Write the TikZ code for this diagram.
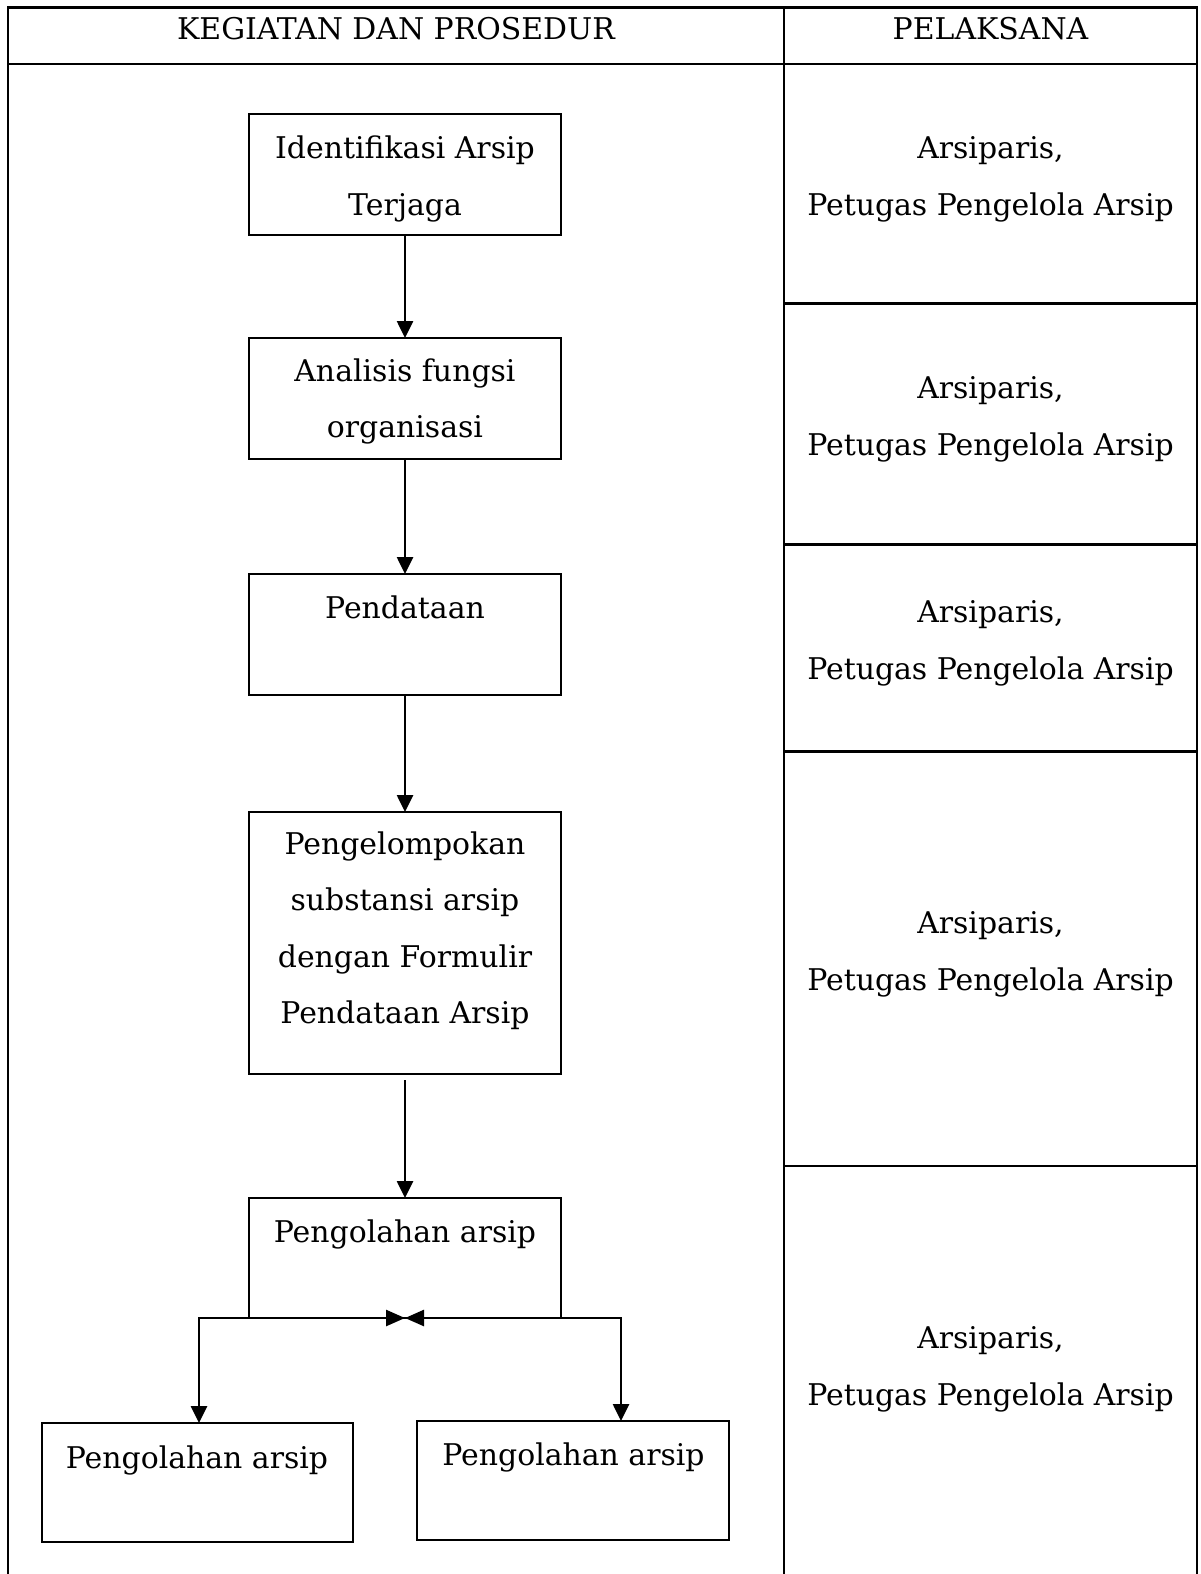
\documentclass[tikz,border=0pt]{standalone}
\usepackage{fontspec}
\setmainfont{DejaVu Serif}
\usetikzlibrary{arrows.meta}
\tikzset{
  box/.style={draw, line width=2pt, inner sep=0pt, outer sep=0pt},
  txt/.style={font=\fontsize{29.9}{56.4}\selectfont, inner sep=0pt, anchor=base},
  arr/.style={line width=2.6pt, -{Triangle[length=17pt,width=16pt]}},
  arr2/.style={line width=2.6pt, line join=miter, {Triangle[length=19pt,width=16pt]}-{Triangle[length=17pt,width=16pt]}},
  grid/.style={line width=2.8pt}
}
\newcommand{\ml}[1]{\begin{tabular}[t]{@{}c@{}}#1\end{tabular}}
\begin{document}
\begin{tikzpicture}[x=1pt,y=-1pt]
\useasboundingbox (0,0) rectangle (1200,1574);
% table frame
\draw[grid] (8,1574) -- (8,7.5) -- (1197,7.5) -- (1197,1574);
\draw[grid] (8,64) -- (1197,64);
\draw[grid] (784,7.5) -- (784,1574);
\draw[grid] (784,303.3) -- (1197,303.3);
\draw[grid] (784,544.3) -- (1197,544.3);
\draw[grid] (784,751.1) -- (1197,751.1);
\draw[grid] (784,1165.9) -- (1197,1165.9);
% header
\node[txt] (h1) at (396,39.5) {KEGIATAN DAN PROSEDUR};
\node[txt] (h2) at (990.5,39.5) {PELAKSANA};
% boxes
\node[box, minimum width=312pt, minimum height=121pt] (b1) at (405,174.5) {};
\node[box, minimum width=312pt, minimum height=121pt] (b2) at (405,398.5) {};
\node[box, minimum width=312pt, minimum height=121pt] (b3) at (405,634.5) {};
\node[box, minimum width=312pt, minimum height=262pt] (b4) at (405,943) {};
\node[box, minimum width=312pt, minimum height=120pt] (b5) at (405,1258) {};
\node[box, minimum width=311pt, minimum height=119pt] (b6) at (197.5,1482.5) {};
\node[box, minimum width=312pt, minimum height=119pt] (b7) at (573,1480.5) {};
% box texts
\node[txt] (t1) at (405,158.6) {\ml{Identifikasi Arsip\\Terjaga}};
\node[txt] (t2) at (405,381.5) {\ml{Analisis fungsi\\organisasi}};
\node[txt] (t3) at (405,618.5) {Pendataan};
\node[txt] (t4) at (405,854.5) {\ml{Pengelompokan\\substansi arsip\\dengan Formulir\\Pendataan Arsip}};
\node[txt] (t5) at (405,1242) {Pengolahan arsip};
\node[txt] (t6) at (197,1468) {Pengolahan arsip};
\node[txt] (t7) at (573.5,1465) {Pengolahan arsip};
% pelaksana
\node[txt] (p1) at (990.5,158.6) {\ml{Arsiparis,\\Petugas Pengelola Arsip}};
\node[txt] (p2) at (990.5,398.6) {\ml{Arsiparis,\\Petugas Pengelola Arsip}};
\node[txt] (p3) at (990.5,622.6) {\ml{Arsiparis,\\Petugas Pengelola Arsip}};
\node[txt] (p4) at (990.5,933.9) {\ml{Arsiparis,\\Petugas Pengelola Arsip}};
\node[txt] (p5) at (990.5,1348.6) {\ml{Arsiparis,\\Petugas Pengelola Arsip}};
% connectors
\draw[arr] (b1) -- (b2);
\draw[arr] (b2) -- (b3);
\draw[arr] (b3) -- (b4);
\draw[arr, shorten <=6pt] (b4) -- (b5);
\coordinate (mid) at (405,1318);
\coordinate (bl) at (199,1318);
\coordinate (br) at (621,1318);
\draw[arr2] (mid) -- (bl) -- (bl |- b6.north);
\draw[arr2] (mid) -- (br) -- (br |- b7.north);
\end{tikzpicture}
\end{document}
